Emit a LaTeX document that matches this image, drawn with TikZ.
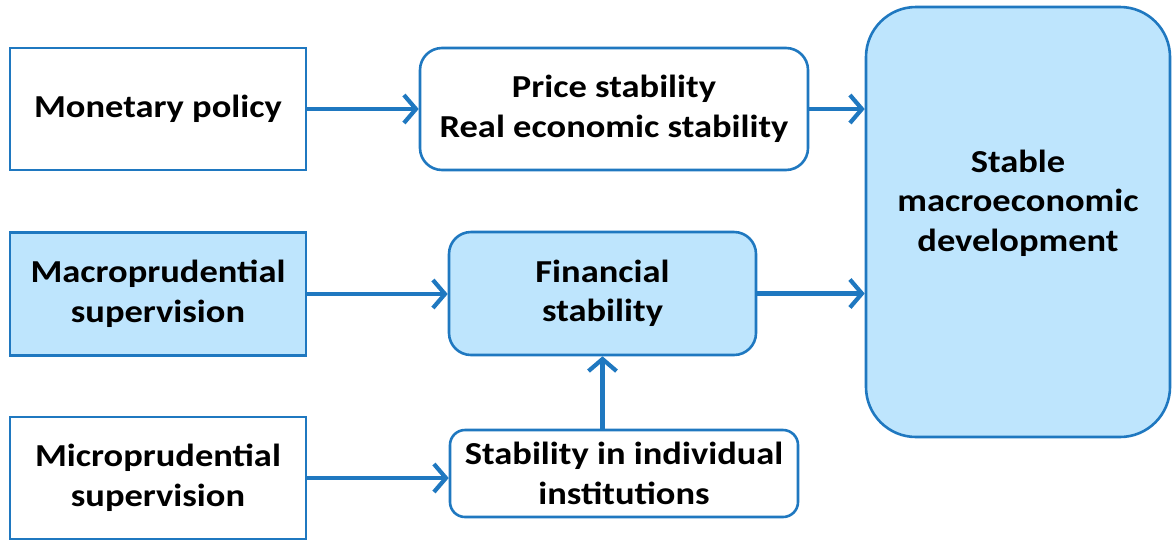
\documentclass[tikz,border=0pt]{standalone}
\usepackage{fontspec}
\setmainfont{Carlito}[FakeStretch=1.14]
\usetikzlibrary{arrows.meta}
\definecolor{bord}{HTML}{1F78C0}
\definecolor{lfill}{HTML}{BEE5FD}
\tikzset{
  txt/.style={align=center, inner sep=0pt, font=\fontsize{32}{39.5}\selectfont\bfseries},
  box/.style={txt, draw=bord, line width=2.6pt},
  sqbox/.style={box},
  rbox/.style={box, rounded corners=22pt},
  conn/.style={draw=bord, line width=4.8pt,
    -{Straight Barb[length=12pt,width=28pt,line width=4.2pt]}},
}
\begin{document}
\begin{tikzpicture}[x=1pt,y=-1pt]
\useasboundingbox (0,0) rectangle (1172,539);
\node[sqbox, fill=white, minimum width=296pt, minimum height=122pt] (mon) at (158,109) {Monetary policy};
\node[sqbox, fill=lfill, minimum width=296pt, minimum height=123pt] (mac) at (158,294) {Macroprudential\\supervision};
\node[sqbox, fill=white, minimum width=296pt, minimum height=122pt] (mic) at (158,478) {Microprudential\\supervision};
\node[rbox, fill=white, minimum width=388pt, minimum height=122pt] (price) at (614,109) {Price stability\\Real economic stability};
\node[rbox, fill=lfill, minimum width=307pt, minimum height=123pt] (fin) at (602.5,293.5) {Financial\\stability};
\node[rbox, rounded corners=15pt, fill=white, minimum width=348pt, minimum height=87pt] (ind) at (624,473.5) {Stability in individual\\institutions};
\node[rbox, rounded corners=50pt, fill=lfill, minimum width=304pt, minimum height=430pt] (stab) at (1018,222) {};
\node[txt] (stabtxt) at ([yshift=19pt]stab.center) {Stable\\macroeconomic\\development};
\draw[conn] (mon.east) -- (mon.east -| price.west);
\draw[conn] (price.east) -- (price.east -| stab.west);
\draw[conn] (mac.east) -- (mac.east -| fin.west);
\draw[conn] (fin.east) -- (fin.east -| stab.west);
\draw[conn] (mic.east) -- (mic.east -| ind.west);
\draw[conn] (fin.south |- ind.north) -- (fin.south);
\end{tikzpicture}
\end{document}
